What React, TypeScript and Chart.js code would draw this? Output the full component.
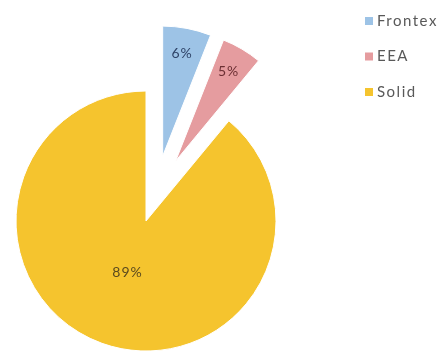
import React, { useEffect, useRef } from "react";
import { Chart, registerables } from "chart.js";

Chart.register(...registerables);

const categories = ["Frontex", "EEA", "Solid"];
const shares = [6, 5, 89];

const sliceColors = ["#9DC3E6", "#E59C9F", "#F5C42E"];
const labelColors = ["#2f4468", "#6b2f33", "#5b4a1e"];
const explodeBy = [67, 67, 0];
const explodePull = 0.4; // how much exploded slices lean toward their group's bisector

const explodePlugin = {
  id: "explodeSlices",
  afterDatasetsUpdate(chart: any) {
    const meta = chart.getDatasetMeta(0);
    const exploded = meta.data.filter((_: any, i: number) => (explodeBy[i] || 0) > 0);
    if (!exploded.length) return;
    const gStart = Math.min(...exploded.map((a: any) => a.startAngle));
    const gEnd = Math.max(...exploded.map((a: any) => a.endAngle));
    const gMid = (gStart + gEnd) / 2;
    meta.data.forEach((arc: any, i: number) => {
      const d = explodeBy[i] || 0;
      if (!d) return;
      const mid = (arc.startAngle + arc.endAngle) / 2;
      const dir = mid + explodePull * (gMid - mid);
      arc.x += Math.cos(dir) * d;
      arc.y += Math.sin(dir) * d;
    });
  },
};

const labelPlugin = {
  id: "sliceLabels",
  afterDatasetsDraw(chart: any) {
    const ctx = chart.ctx as CanvasRenderingContext2D;
    const meta = chart.getDatasetMeta(0);
    const total = shares.reduce((a, b) => a + b, 0);
    ctx.save();
    ctx.font = "14px Lato";
    (ctx as any).letterSpacing = "1px";
    ctx.textAlign = "center";
    ctx.textBaseline = "middle";
    meta.data.forEach((arc: any, i: number) => {
      const frac = shares[i] / total;
      const mid = (arc.startAngle + arc.endAngle) / 2;
      const r = frac < 0.1 ? 0.8 * arc.outerRadius : 0.42 * arc.outerRadius;
      ctx.fillStyle = labelColors[i];
      ctx.fillText(
        Math.round(frac * 100) + "%",
        arc.x + Math.cos(mid) * r,
        arc.y + Math.sin(mid) * r
      );
    });
    ctx.restore();
  },
};

const legendPlugin = {
  id: "sideLegend",
  afterDraw(chart: any) {
    const ctx = chart.ctx as CanvasRenderingContext2D;
    ctx.save();
    ctx.font = "15px Lato";
    (ctx as any).letterSpacing = "1.5px";
    ctx.textAlign = "left";
    ctx.textBaseline = "middle";
    categories.forEach((name, i) => {
      const y = 21 + i * 35.5;
      ctx.fillStyle = sliceColors[i];
      ctx.fillRect(365, y - 4, 8, 8);
      ctx.fillStyle = "#595959";
      ctx.fillText(name, 377, y);
    });
    ctx.restore();
  },
};

export default function App() {
  const ref = useRef<HTMLCanvasElement>(null);
  useEffect(() => {
    const chart = new Chart(ref.current as HTMLCanvasElement, {
      type: "pie",
      data: {
        labels: categories,
        datasets: [
          {
            data: shares,
            backgroundColor: sliceColors,
            borderColor: "#ffffff",
            borderWidth: 1,
            radius: 130,
            clip: false,
          } as any,
        ],
      },
      options: {
        animation: false,
        responsive: false,
        events: [],
        radius: 130,
        layout: { padding: { left: 0, right: 149, top: 89, bottom: 0 } },
        plugins: { legend: { display: false }, tooltip: { enabled: false } },
      } as any,
      plugins: [explodePlugin, labelPlugin, legendPlugin],
    });
    return () => chart.destroy();
  }, []);
  return (
    <div
      style={{
        position: "absolute",
        left: 0,
        top: 0,
        width: 441,
        height: 353,
        background: "#ffffff",
      }}
    >
      <canvas ref={ref} width={441} height={353} style={{ display: "block" }} />
    </div>
  );
}
